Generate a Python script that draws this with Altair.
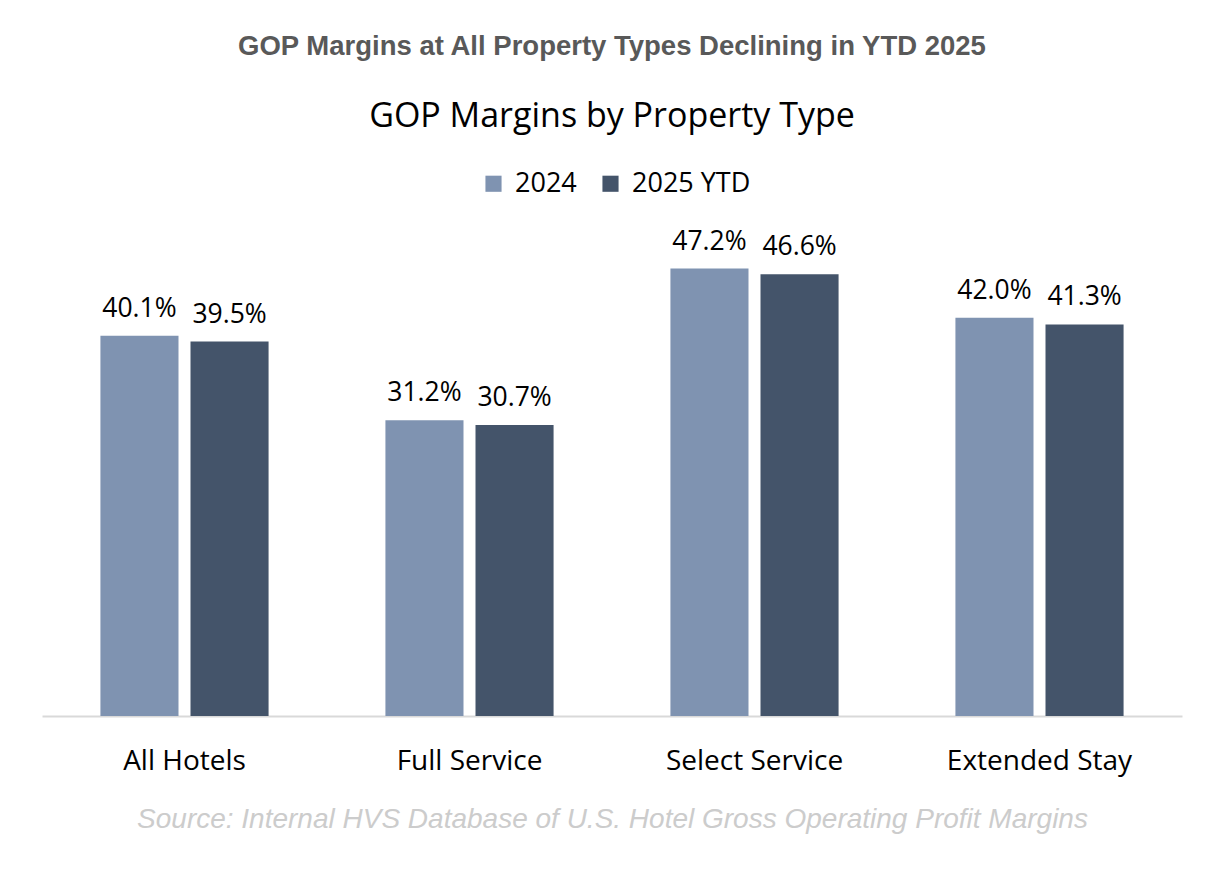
import altair as alt
import pandas as pd

categories = ["All Hotels", "Full Service", "Select Service", "Extended Stay"]
series = ["2024", "2025 YTD"]
values_2024 = [40.1, 31.2, 47.2, 42.0]
values_2025 = [39.5, 30.7, 46.6, 41.3]

rows = []
for c, a, b in zip(categories, values_2024, values_2025):
    rows.append({"cat": c, "series": "2024", "value": a, "label": f"{a:.1f}%"})
    rows.append({"cat": c, "series": "2025 YTD", "value": b, "label": f"{b:.1f}%"})
df = pd.DataFrame(rows)

FONT = "Open Sans"

x = alt.X("cat:N", sort=categories,
          scale=alt.Scale(paddingInner=0.41, paddingOuter=0.205),
          axis=alt.Axis(title="Source: Internal HVS Database of U.S. Hotel Gross Operating Profit Margins",
                        titleFont="Liberation Sans", titleFontStyle="italic", titleFontWeight="normal",
                        titleFontSize=28, titleColor="#cccccc", titlePadding=30,
                        labelFont=FONT, labelFontSize=28, labelColor="#000000",
                        labelPadding=31, labelLimit=400, ticks=False, labelAngle=0,
                        domainColor="#d9d9d9", domainWidth=2))
xo = alt.XOffset("series:N", sort=series, scale=alt.Scale(paddingInner=0.1333, paddingOuter=0))
y = alt.Y("value:Q", scale=alt.Scale(domain=[0, 50], nice=False), axis=None)

bars = alt.Chart(df).mark_bar().encode(
    x=x, xOffset=xo, y=y,
    color=alt.Color("series:N", sort=series,
                    scale=alt.Scale(domain=series, range=["#7F93B1", "#44546A"]),
                    legend=alt.Legend(title=None, orient="none", direction="horizontal",
                                      legendX=438, legendY=-72,
                                      symbolType="square", symbolSize=260,
                                      symbolStrokeWidth=0, labelFont=FONT,
                                      labelFontSize=27, labelColor="#000000",
                                      columnPadding=20, labelOffset=8))
)

labels = alt.Chart(df).mark_text(baseline="alphabetic", dy=-19, font=FONT, fontSize=26.5, color="#000000").encode(
    x=x, xOffset=xo, y=y, text="label:N"
)

chart = alt.layer(bars, labels).properties(
    width=1140, height=474,
    background="white",
    title=alt.TitleParams(
        text="GOP Margins at All Property Types Declining in YTD 2025",
        subtitle="GOP Margins by Property Type",
        anchor="middle", font="Liberation Sans", fontSize=27.5, fontWeight="bold", color="#595959",
        subtitleFont=FONT, subtitleFontSize=34, subtitleColor="#000000", subtitlePadding=40,
        offset=36,
    ),
    autosize=alt.AutoSizeParams(type="none"),
    padding={"left": 34, "top": 234, "right": 28, "bottom": 140},
).configure_view(stroke=None)

chart.save("out.html", embed_options={"renderer": "svg", "actions": False})
